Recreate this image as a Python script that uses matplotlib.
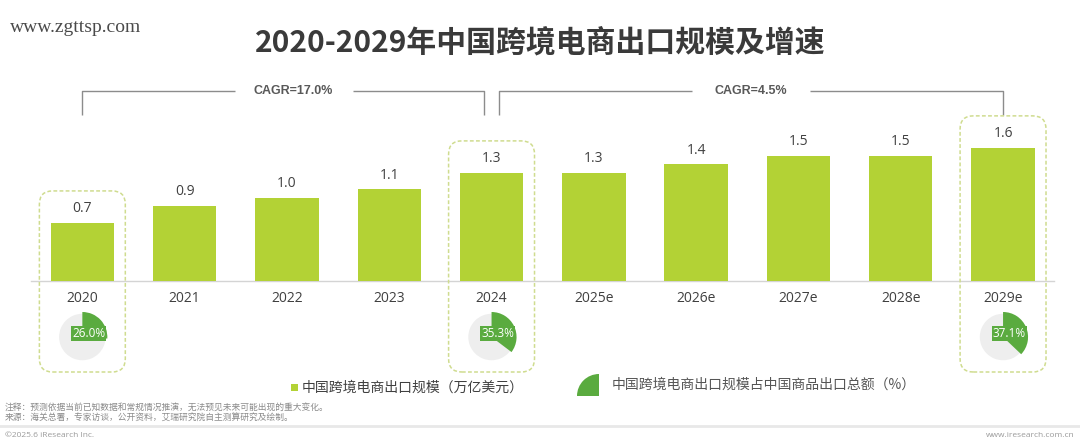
import matplotlib
matplotlib.use('Agg')
import matplotlib.pyplot as plt
from matplotlib.patches import FancyBboxPatch, Rectangle, Wedge

# ---------------- data ----------------
years = ['2020', '2021', '2022', '2023', '2024', '2025e', '2026e', '2027e', '2028e', '2029e']
export_scale = [0.7, 0.9, 1.0, 1.1, 1.3, 1.3, 1.4, 1.5, 1.5, 1.6]   # 万亿美元
share_years = ['2020', '2024', '2029e']
share_pct = [26.0, 35.3, 37.1]                                        # %
cagr_labels = ['CAGR=17.0%', 'CAGR=4.5%']
cagr_spans = [('2020', '2024'), ('2024', '2029e')]

title = '2020-2029年中国跨境电商出口规模及增速'
legend_bar = '中国跨境电商出口规模（万亿美元）'
legend_pie = '中国跨境电商出口规模占中国商品出口总额（%）'
note_lines = ['注释：预测依据当前已知数据和常规情况推演，无法预见未来可能出现的重大变化。',
              '来源：海关总署，专家访谈，公开资料，艾瑞研究院自主测算研究及绘制。']
copyright_txt = '©2025.6 iResearch Inc.'
site_txt = 'www.iresearch.com.cn'
watermark = 'www.zgttsp.com'

# ---------------- style ----------------
BAR = '#b3d235'
PIE_G = '#5aab3f'
PIE_BG = '#eeeeee'
BOX = '#cfdc8f'
TXT = '#404040'
CJK = ['Noto Sans CJK SC', 'DejaVu Sans']
NUM = ['Open Sans', 'Noto Sans CJK SC', 'DejaVu Sans']

W, H = 1080, 444
fig = plt.figure(figsize=(W / 100, H / 100), dpi=100)
fig.patch.set_facecolor('white')

def fx(px):
    return px / W

def fy(py):
    return 1 - py / H

# main bar axes: baseline at 281px from top
ax_left, ax_w = 31.2, 1023.0
ax_bottom, ax_h = 163.0, 221.0
ax = fig.add_axes([ax_left / W, ax_bottom / H, ax_w / W, ax_h / H])
ax.set_xlim(-0.5, len(years) - 0.5)
ax.set_ylim(0, 2.65)
ax.axis('off')

xs = list(range(len(years)))
ax.bar(xs, export_scale, width=0.62, color=BAR, zorder=2)
ax.axhline(0, color='#d4d4d4', lw=1, zorder=1, clip_on=False)

for i, v in zip(xs, export_scale):
    ax.annotate(f'{v:.1f}', (i, v), xytext=(0, 14), textcoords='offset pixels',
                ha='center', va='center', fontsize=10, color=TXT, family=NUM)
    ax.annotate(years[i], (i, 0), xytext=(0, -17), textcoords='offset pixels',
                ha='center', va='center', fontsize=10, color=TXT, family=NUM)

# px per data unit
ppx = ax_w / (len(years))
ppy = ax_h / 2.65

# dashed highlight boxes
for yr in share_years:
    i = years.index(yr)
    v = export_scale[i]
    half = 0.42
    top = v + 0.38
    bottom = -91 / ppy
    box = FancyBboxPatch((i - half, bottom), 2 * half, top - bottom,
                         boxstyle='round,pad=0,rounding_size=0.13',
                         mutation_aspect=ppx / ppy,
                         fill=False, edgecolor=BOX, lw=1.1, ls=(0, (2.5, 1.5)),
                         clip_on=False, zorder=3)
    ax.add_patch(box)

# CAGR brackets
y_line = 190 / ppy
y_end = 166 / ppy
gap = 59 / ppx
for (a, b), lab in zip(cagr_spans, cagr_labels):
    x0 = years.index(a)
    x1 = years.index(b)
    x0 = x0 + (0.07 if a == '2024' else 0.0)
    x1 = x1 - (0.07 if b == '2024' else 0.0)
    mid = (x0 + x1) / 2 + (0.1 if a == '2020' else 0.0)
    kw = dict(color='#8c8c8c', lw=1, clip_on=False, solid_capstyle='butt')
    ax.plot([x0, x0, mid - gap], [y_end, y_line, y_line], **kw)
    ax.plot([mid + gap, x1, x1], [y_line, y_line, y_end], **kw)
    ax.text(mid, y_line, lab, ha='center', va='center', fontsize=9,
            fontweight='bold', color='#595959', family=['Liberation Sans', 'DejaVu Sans'])

# pies below axis
r_px = 25
pie_cy = H - 337
for yr, p in zip(share_years, share_pct):
    i = years.index(yr)
    cx = ax_left + (i + 0.5) * ppx
    size = 2 * r_px + 4
    pax = fig.add_axes([(cx - size / 2) / W, (pie_cy - size / 2) / H, size / W, size / H])
    pax.pie([100], colors=[PIE_BG], radius=0.93, startangle=90)
    pax.pie([p, 100 - p], colors=[PIE_G, 'none'], radius=1.0, startangle=90,
            counterclock=False)
    pax.set_xlim(-1.08, 1.08)
    pax.set_ylim(-1.08, 1.08)
    pax.axis('off')
    pax.text(0.25, 0.14, f'{p:.1f}%', ha='center', va='center', fontsize=8.5,
             color='white', family=NUM,
             bbox=dict(boxstyle='square,pad=0.08', fc=PIE_G, ec='none'))

# title & watermark
fig.text(0.5, fy(42), title, ha='center', va='center', fontsize=21.5,
         fontweight='bold', color='#3a3a3a', family=CJK)
fig.text(fx(10), fy(27), watermark, ha='left', va='center', fontsize=14,
         color='#4a4a4a', family=['Liberation Serif', 'DejaVu Serif'])

# legend
fig.add_artist(Rectangle((fx(291), fy(391)), 7 / W, 7 / H, transform=fig.transFigure,
                         fc=BAR, ec='none'))
fig.text(fx(302), fy(388), legend_bar, ha='left', va='center', fontsize=10,
         color=TXT, family=CJK)
iax = fig.add_axes([fx(575), fy(399), 26 / W, 26 / H])
iax.set_xlim(0, 26)
iax.set_ylim(0, 26)
iax.axis('off')
iax.add_patch(Wedge((24, 3), 22, 90, 180, fc=PIE_G, ec='none'))
fig.text(fx(612), fy(385), legend_pie, ha='left', va='center', fontsize=10,
         color='#555555', family=CJK)

# notes & footer
fig.text(fx(5), fy(407), note_lines[0], ha='left', va='center', fontsize=6.3,
         color='#8a8a8a', family=CJK)
fig.text(fx(5), fy(417), note_lines[1], ha='left', va='center', fontsize=6.3,
         color='#8a8a8a', family=CJK)
fig.add_artist(plt.Line2D([0, 1], [fy(426), fy(426)], transform=fig.transFigure,
                          color='#e8e8e8', lw=2))
fig.text(fx(5), fy(435), copyright_txt, ha='left', va='center', fontsize=6,
         color='#9a9a9a', family=NUM)
fig.text(fx(1075), fy(435), site_txt, ha='right', va='center', fontsize=6,
         color='#9a9a9a', family=NUM)

fig.savefig('out.png', dpi=100, facecolor='white')
